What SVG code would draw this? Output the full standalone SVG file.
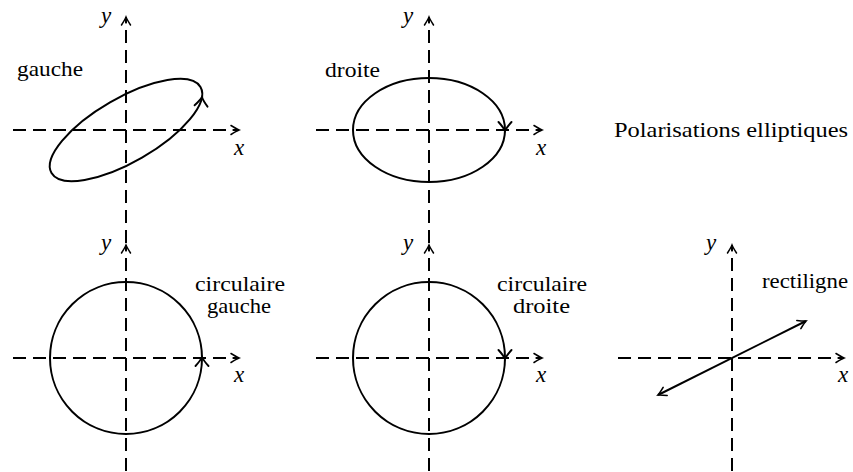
<svg xmlns="http://www.w3.org/2000/svg" width="853" height="472" viewBox="0 0 853 472">
<style>
.ax{fill:none;stroke:#000;stroke-width:2;stroke-dasharray:13 7;marker-end:url(#ah)}
.cv{fill:none;stroke:#000;stroke-width:2}
.lbl{font-size:21px;fill:#000}
.m{font-size:23px;font-style:italic;fill:#000;text-anchor:middle}
.ch{fill:none;stroke:#000;stroke-width:1.9;stroke-linecap:round}
</style>
<defs>
<marker id="ah" markerUnits="userSpaceOnUse" markerWidth="24" markerHeight="24" viewBox="-12 -12 24 24" refX="0" refY="0" orient="auto" overflow="visible">
<path d="M -8 -4.5 Q -2.5 -1 0 0 Q -2.5 1 -8 4.5 M -6 0 L 0 0" fill="none" stroke="#000" stroke-width="1.5" stroke-dasharray="none" stroke-linecap="round"/>
</marker>
<marker id="ah2" markerUnits="userSpaceOnUse" markerWidth="24" markerHeight="24" viewBox="-12 -12 24 24" refX="0" refY="0" orient="auto-start-reverse" overflow="visible">
<path d="M -8 -4.5 Q -2.5 -1 0 0 Q -2.5 1 -8 4.5" fill="none" stroke="#000" stroke-width="1.6" stroke-linecap="round"/>
</marker>
<path id="chev" d="M -9 -6.5 Q -3.5 -1.5 0 0 Q -3.5 1.5 -9 6.5"/>
</defs>

<g id="axes">
<path class="ax" d="M 13 130 H 239"/>
<path class="ax" d="M 126 243 V 17"/>
<path class="ax" d="M 316 130 H 542"/>
<path class="ax" d="M 429 243 V 17"/>
<path class="ax" d="M 13 358 H 239"/>
<path class="ax" d="M 126 471 V 245"/>
<path class="ax" d="M 316 358 H 542"/>
<path class="ax" d="M 429 471 V 245"/>
<path class="ax" d="M 618 358 H 844"/>
<path class="ax" d="M 732 471 V 245"/>
</g>

<g id="ellipse-gauche">
<ellipse class="cv" cx="126" cy="130" rx="86" ry="32" transform="rotate(-30 126 130)"/>
<use href="#chev" class="ch" transform="translate(202 97) rotate(-84)"/>
</g>

<g id="ellipse-droite">
<ellipse class="cv" cx="429" cy="130" rx="76" ry="52"/>
<use href="#chev" class="ch" transform="translate(505 131) rotate(90)"/>
</g>

<g id="circ-gauche">
<circle class="cv" cx="126" cy="358" r="76"/>
<use href="#chev" class="ch" transform="translate(202 357) rotate(-90)"/>
</g>

<g id="circ-droite">
<circle class="cv" cx="429" cy="358" r="76"/>
<use href="#chev" class="ch" transform="translate(505 359) rotate(90)"/>
</g>

<g id="rectiligne-line">
<path d="M 658 395 L 806 321" fill="none" stroke="#000" stroke-width="2" marker-start="url(#ah2)" marker-end="url(#ah2)"/>
</g>

<g id="axis-labels" font-family="Liberation Serif, serif">
<text class="m" x="106" y="23">y</text>
<text class="m" x="239" y="155">x</text>
<text class="m" x="408" y="23">y</text>
<text class="m" x="541" y="155">x</text>
<text class="m" x="106" y="250">y</text>
<text class="m" x="239" y="382">x</text>
<text class="m" x="408" y="250">y</text>
<text class="m" x="541" y="382">x</text>
<text class="m" x="711" y="250">y</text>
<text class="m" x="843" y="382">x</text>
</g>

<g id="labels" font-family="Liberation Serif, serif">
<text class="lbl" x="17" y="76" textLength="66" lengthAdjust="spacingAndGlyphs">gauche</text>
<text class="lbl" x="325" y="77" textLength="55" lengthAdjust="spacingAndGlyphs">droite</text>
<text class="lbl" x="614" y="137" textLength="234" lengthAdjust="spacingAndGlyphs">Polarisations elliptiques</text>
<text class="lbl" x="195" y="291" textLength="90" lengthAdjust="spacingAndGlyphs">circulaire</text>
<text class="lbl" x="207" y="313" textLength="64" lengthAdjust="spacingAndGlyphs">gauche</text>
<text class="lbl" x="497" y="291" textLength="90" lengthAdjust="spacingAndGlyphs">circulaire</text>
<text class="lbl" x="513" y="313" textLength="57" lengthAdjust="spacingAndGlyphs">droite</text>
<text class="lbl" x="762" y="288" textLength="86" lengthAdjust="spacingAndGlyphs">rectiligne</text>
</g>
</svg>
